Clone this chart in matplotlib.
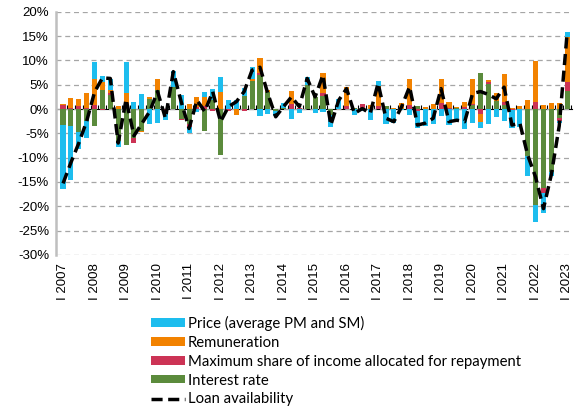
import numpy as np
import matplotlib
matplotlib.use("Agg")
import matplotlib.pyplot as plt
from matplotlib.ticker import FuncFormatter

# quarters 2007 Q1 .. 2023 Q1
years = list(range(2007, 2024))
n_quarters = 65

# contributions, percentage points
interest = [-3.3, -3.4, -4.7, -2.4, -3.5, 4.0, 2.8, -6.5, -7.4, -6.0, -4.5, 2.0, 4.0,
            0.0, 4.6, -2.0, -3.0, 0.0, -4.5, 1.8, -9.5, 0.0, 0.0, 2.7, 5.8, 7.0,
            3.6, -0.5, 0.3, 0.0, 0.0, 4.9, 2.5, 2.7, -1.2, 0.0, 0.0, 0.2, 0.2,
            0.0, 0.0, 0.6, 0.0, 0.0, 0.0, 0.6, 0.0, 0.0, 0.0, 0.0, 0.2, 0.0,
            0.8, 7.5, 5.2, 1.6, 0.8, 0.0, 0.0, -9.7, -19.7, -16.3, -13.0, -1.9, 3.8]
max_share = [0.8, 0.2, 0.6, 0.2, 0.9, -0.2, 0.6, 0.0, 0.0, -0.9, 0.0, 0.0, 0.0,
             -0.3, 0.0, -0.3, -0.6, 0.5, 0.7, -0.4, 0.0, -0.5, 0.0, -0.4, 0.0, 0.5,
             0.0, 0.0, 0.0, 1.0, 0.3, 0.0, 0.0, 0.5, 0.0, 0.0, 0.7, 0.0, 0.8,
             0.0, 0.6, 0.0, 0.0, 0.0, 0.8, -0.5, 0.0, 0.0, 1.3, 0.3, 0.0, 0.4,
             0.3, -1.0, 0.3, 0.0, 0.7, -0.3, 0.0, 0.0, 1.5, -1.0, 0.0, -0.6, 1.8]
remuneration = [0.3, 2.1, 1.4, 3.2, 5.2, 1.6, 0.6, 0.6, 3.4, 0.0, -0.3, 0.5, 2.2,
                0.0, 0.0, 0.0, 1.0, 2.0, 1.7, 0.0, 3.5, 0.0, -1.2, 0.0, 0.3, 3.1,
                0.3, 0.0, 0.0, 2.8, 0.0, 0.0, 0.0, 4.3, 0.0, 0.0, 3.8, 0.0, 0.0,
                0.8, 4.1, 0.0, 0.3, 1.3, 5.3, 0.0, 0.5, 1.1, 4.8, 1.1, 0.3, 1.1,
                5.0, -1.6, 0.5, 1.8, 5.8, 0.3, 0.7, 1.8, 8.4, 0.8, 1.2, 1.2, 9.3]
price = [-13.2, -11.2, -3.6, -3.6, 3.6, 1.2, 2.2, -1.3, 6.2, 1.5, 3.0, -3.1, -2.9,
         -1.9, 3.2, 2.9, -1.3, -0.6, 1.2, 2.4, 3.1, 1.8, 1.8, 1.6, 2.6, -1.4,
         -1.1, -0.9, 1.0, -2.0, -0.9, 1.6, -0.8, -0.7, -2.4, 2.0, 0.0, -1.2, -0.5,
         -2.3, 1.0, -3.1, -2.9, -0.3, -1.3, -3.4, -3.5, -3.1, -1.5, -3.2, -2.5, -4.2,
         -2.8, -1.4, -3.1, -1.6, -2.4, -3.5, -3.6, -4.1, -3.6, -4.0, -0.8, -0.3, 1.0]
loan_avail = [-15.3, -11.0, -7.0, -2.5, 3.5, 6.4, 6.3, -7.0, 2.0, -5.5, -3.0, -0.5, 3.6,
              -1.9, 7.7, 1.5, -4.0, 1.8, -0.5, 3.6, -2.6, 0.5, 1.5, 3.6, 8.0, 8.6,
              3.2, -1.6, 0.5, 2.5, 0.5, 6.3, 2.5, 7.0, -3.3, 1.8, 4.2, -0.9, 0.1,
              -0.9, 5.3, -1.9, -2.6, 0.5, 4.6, -3.3, -2.9, -1.9, 4.2, -2.6, -2.3, -2.6,
              3.2, 3.6, 3.0, 2.1, 4.5, -3.3, -2.9, -9.5, -14.0, -20.5, -13.5, -3.5, 15.5]

series = [
    ("Interest rate", interest, "#5B8B3C"),
    ("Maximum share of income allocated for repayment", max_share, "#CC3355"),
    ("Remuneration", remuneration, "#F28200"),
    ("Price (average PM and SM)", price, "#1DBDEE"),
]

x = np.arange(n_quarters)
fig = plt.figure(figsize=(5.77, 4.09), dpi=100)
ax = fig.add_axes([0.097, 0.377, 0.894, 0.594])

pos_base = np.zeros(n_quarters)
neg_base = np.zeros(n_quarters)
handles = {}
for name, vals, col in series:
    v = np.array(vals)
    base = np.where(v >= 0, pos_base, neg_base)
    b = ax.bar(x, v, bottom=base, width=0.65, color=col, label=name, zorder=2)
    handles[name] = b
    pos_base += np.where(v > 0, v, 0)
    neg_base += np.where(v < 0, v, 0)

line, = ax.plot(x, loan_avail, color="black", lw=2.5, ls=(0, (3.2, 1.6)),
                zorder=4, label="Loan availability")

ax.set_ylim(-30, 20)
ax.set_yticks(np.arange(-30, 21, 5))
ax.yaxis.set_major_formatter(FuncFormatter(lambda v, p: f"{v:.0f}%"))
ax.set_xlim(-0.9, n_quarters - 0.4)
ax.grid(axis="y", color="#A6A6A6", ls=(0, (4, 3)), lw=0.9, zorder=0)
for s in ["top", "right", "bottom"]:
    ax.spines[s].set_visible(False)
ax.spines["left"].set_color("#BFBFBF")
ax.spines["left"].set_linewidth(1.8)
ax.tick_params(axis="y", length=0, labelsize=9.5, pad=5)

ax.set_xticks(np.arange(0, n_quarters, 4))
ax.set_xticklabels([f"I {y}" for y in years], rotation=90, fontsize=9.5)
ax.tick_params(axis="x", length=0, pad=6)

# zero axis with quarter tick marks
zero = ax.secondary_xaxis(30 / 50)
zero.set_xticks(np.arange(n_quarters) + 0.5)
zero.set_xticklabels([])
zero.tick_params(axis="x", length=3, width=0.8, color="black", direction="out")
zero.spines["bottom"].set_color("black")
zero.spines["bottom"].set_linewidth(1.0)

for lab in ax.get_xticklabels() + ax.get_yticklabels():
    lab.set_fontfamily("Liberation Sans")

order = ["Price (average PM and SM)", "Remuneration",
         "Maximum share of income allocated for repayment", "Interest rate"]
leg = fig.legend([handles[k] for k in order] + [line], order + ["Loan availability"],
                 loc="upper left", bbox_to_anchor=(0.262, 0.228), frameon=False,
                 prop={"family": "Lato", "size": 10.7}, handlelength=2.3,
                 handleheight=0.5, labelspacing=0.33, handletextpad=0.15,
                 borderpad=0, borderaxespad=0)

fig.savefig("out.png", dpi=100)
